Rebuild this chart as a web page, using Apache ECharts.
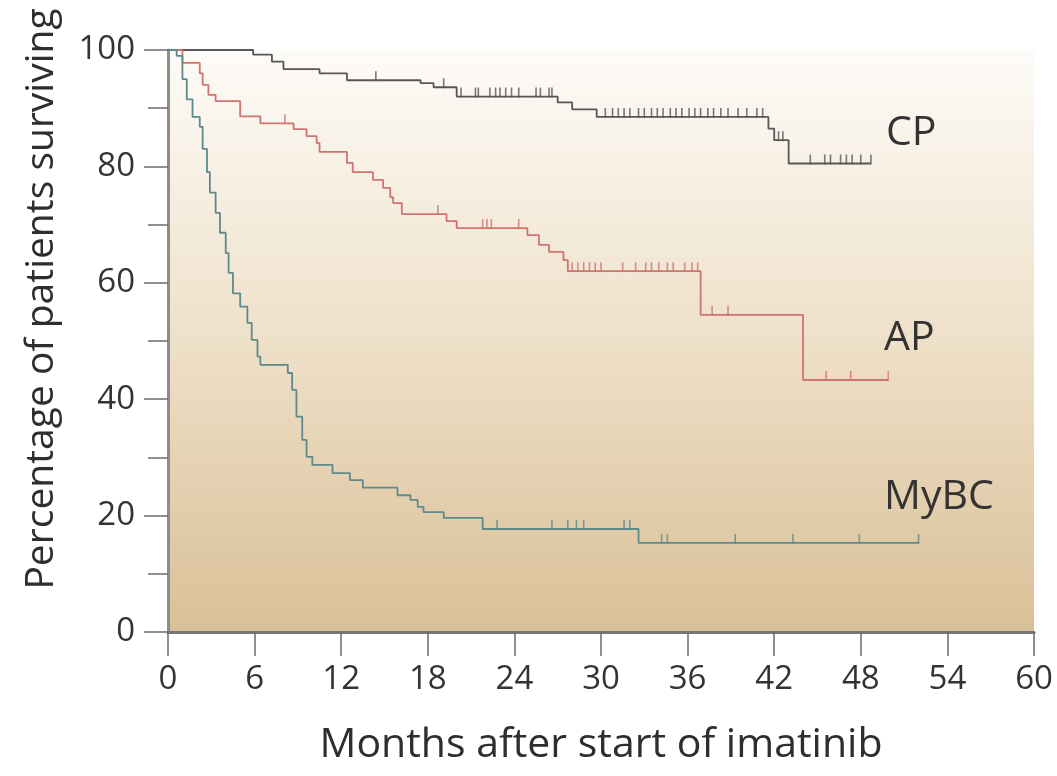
<!DOCTYPE html>
<html>
<head>
<meta charset="utf-8">
<title>Survival after imatinib</title>
<script src="https://cdn.jsdelivr.net/npm/echarts@6/dist/echarts.min.js"></script>
<style>
  html, body { margin: 0; padding: 0; background: #fff; }
  #chart { width: 1057px; height: 776px; }
</style>
</head>
<body>
<div id="chart"></div>
<script>
  // x axis ticks (months)
  var monthTicks = [0, 6, 12, 18, 24, 30, 36, 42, 48, 54, 60];

  // CP - chronic phase
  var cpTime = [0, 5.9, 7.2, 8.0, 10.5, 12.4, 17.5, 18.4, 20.0, 27.0, 28.0, 29.7, 41.6, 42.0, 43.0, 48.7];
  var cpSurv = [100, 99.2, 98, 96.7, 96, 94.8, 94.3, 93.6, 92, 91, 89.8, 88.5, 86.5, 84.5, 80.5, 80.5];
  var cpCensor = [14.4, 19.1, 20.3, 21.3, 21.5, 22.3, 22.7, 23.0, 23.4, 23.8, 24.3, 25.5, 25.8, 26.4, 26.6,
    30.3, 30.8, 31.2, 31.6, 32.0, 32.6, 33.0, 33.5, 33.9, 34.3, 34.8, 35.2, 35.6, 36.1, 36.5, 36.9,
    37.4, 37.8, 38.3, 38.8, 39.5, 40.1, 40.8, 41.2, 42.3, 42.6, 44.5, 45.5, 45.9, 46.6, 47.0, 47.4, 48.0, 48.7];

  // AP - accelerated phase
  var apTime = [0, 1.0, 2.2, 2.4, 2.8, 3.3, 5.0, 6.4, 8.7, 9.6, 10.3, 10.5, 12.4, 12.8, 14.2, 14.9, 15.4, 15.6,
    16.2, 19.3, 20.0, 24.9, 25.7, 26.4, 27.4, 27.7, 36.9, 44.0, 49.9];
  var apSurv = [100, 97.8, 96, 94, 92.3, 91.2, 88.6, 87.4, 86.4, 85.2, 84, 82.5, 80.6, 79, 77.7, 76.3, 74.7, 73.7,
    71.8, 70.6, 69.4, 68.2, 66.5, 65.3, 63.9, 62, 54.5, 43.3, 43.3];
  var apCensor = [8.1, 18.7, 21.8, 22.1, 22.4, 24.3, 28.0, 28.4, 28.8, 29.2, 29.6, 30.0, 31.5, 32.4, 33.1,
    33.5, 34.0, 34.6, 35.0, 35.8, 36.3, 36.7, 37.7, 38.8, 45.6, 47.3, 49.9];

  // MyBC - myeloid blast crisis
  var mbTime = [0, 0.6, 1.0, 1.3, 1.7, 2.2, 2.4, 2.7, 2.9, 3.3, 3.6, 4.0, 4.2, 4.5, 5.0, 5.5, 5.8, 6.2, 6.4,
    8.3, 8.6, 8.9, 9.3, 9.6, 10.0, 11.4, 12.6, 13.5, 15.9, 16.8, 17.3, 17.7, 19.1, 21.8, 32.6, 52.0];
  var mbSurv = [100, 99, 95, 91.5, 88.5, 86.8, 83, 79, 75.5, 72, 68.6, 65.1, 61.7, 58.2, 55.9, 53.1, 50.2, 47.3, 45.9,
    44.5, 41.6, 37, 33, 30.1, 28.7, 27.3, 26.1, 24.8, 23.5, 22.7, 21.5, 20.6, 19.6, 17.7, 15.3, 15.3];
  var mbCensor = [22.8, 26.6, 27.7, 28.3, 28.8, 31.6, 32.0, 34.2, 34.6, 39.3, 43.3, 47.9, 52.0];

  var groupNames = ['CP', 'AP', 'MyBC'];
  var groupColors = ['#575757', '#cf7470', '#5e8a8c'];

  function zip(t, s) {
    return t.map(function (v, i) { return [v, s[i]]; });
  }
  // value of the step curve at time x
  function stepAt(t, s, x) {
    var v = s[0];
    for (var i = 0; i < t.length; i++) {
      if (t[i] <= x) v = s[i];
    }
    return v;
  }
  function censorPts(t, s, c) {
    return c.map(function (x) { return [x, stepAt(t, s, x)]; });
  }

  var curves = [
    { line: zip(cpTime, cpSurv), marks: censorPts(cpTime, cpSurv, cpCensor) },
    { line: zip(apTime, apSurv), marks: censorPts(apTime, apSurv, apCensor) },
    { line: zip(mbTime, mbSurv), marks: censorPts(mbTime, mbSurv, mbCensor) }
  ];

  var series = [];
  curves.forEach(function (c, i) {
    series.push({
      name: groupNames[i],
      type: 'line',
      step: 'end',
      symbol: 'none',
      data: c.line,
      lineStyle: { color: groupColors[i], width: 1.8 },
      z: 3
    });
    series.push({
      name: groupNames[i] + ' censored',
      type: 'scatter',
      symbol: 'rect',
      symbolSize: [1.6, 10],
      symbolOffset: [0, -4],
      data: c.marks,
      itemStyle: { color: groupColors[i] },
      z: 4
    });
  });

  var chart = echarts.init(document.getElementById('chart'));
  var font = '"Open Sans", "DejaVu Sans", sans-serif';

  var option = {
    animation: false,
    textStyle: { fontFamily: font },
    grid: {
      left: 168, top: 50, right: 23, bottom: 144,
      show: true,
      borderWidth: 0,
      backgroundColor: new echarts.graphic.LinearGradient(0, 0, 0, 1, [
        { offset: 0, color: '#fdfbf8' },
        { offset: 0.45, color: '#f0e3cd' },
        { offset: 1, color: '#d9c097' }
      ])
    },
    xAxis: {
      type: 'value',
      min: 0, max: 60, interval: 6,
      axisLine: { lineStyle: { color: '#7a7570', width: 3 } },
      axisTick: { show: true, length: 24, lineStyle: { color: '#6b6b6b', width: 1.5 } },
      axisLabel: {
        margin: 31, fontSize: 33, color: '#333', fontFamily: font,
        customValues: monthTicks
      },
      splitLine: { show: false }
    },
    yAxis: {
      type: 'value',
      min: 0, max: 100, interval: 20,
      axisLine: { show: true, lineStyle: { color: '#8f8c88', width: 3 } },
      axisTick: { show: true, length: 24, lineStyle: { color: '#6b6b6b', width: 1.5 } },
      minorTick: { show: true, splitNumber: 2, length: 20, lineStyle: { color: '#6b6b6b', width: 1.5 } },
      axisLabel: { margin: 33, fontSize: 33, color: '#333', fontFamily: font },
      splitLine: { show: false }
    },
    graphic: [
      {
        type: 'text', x: 42, y: 299, rotation: Math.PI / 2,
        style: { text: 'Percentage of patients surviving', fontSize: 39, fill: '#2e2e2e', fontFamily: font,
          align: 'center', verticalAlign: 'middle' }
      },
      {
        type: 'text', x: 601, y: 745,
        style: { text: 'Months after start of imatinib', fontSize: 41, fill: '#2e2e2e', fontFamily: font,
          align: 'center', verticalAlign: 'middle' }
      },
      { type: 'text', x: 886, y: 133, style: { text: groupNames[0], fontSize: 41, fill: '#333', fontFamily: font, verticalAlign: 'middle' } },
      { type: 'text', x: 884, y: 338, style: { text: groupNames[1], fontSize: 41, fill: '#333', fontFamily: font, verticalAlign: 'middle' } },
      { type: 'text', x: 884, y: 497, style: { text: groupNames[2], fontSize: 41, fill: '#333', fontFamily: font, verticalAlign: 'middle' } }
    ],
    series: series
  };

  chart.setOption(option);
</script>
</body>
</html>
